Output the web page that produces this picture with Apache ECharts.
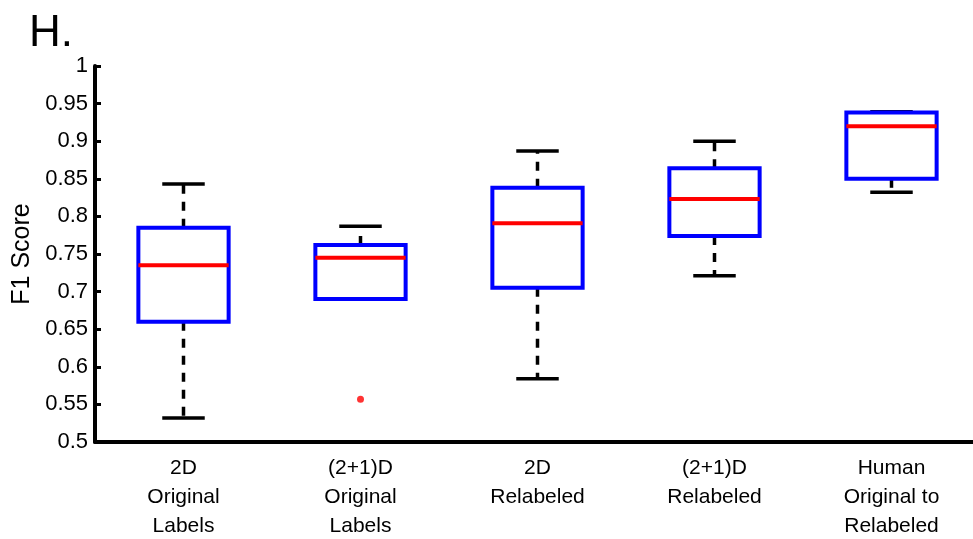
<!DOCTYPE html>
<html>
<head>
<meta charset="utf-8">
<script src="https://cdn.jsdelivr.net/npm/echarts@6/dist/echarts.min.js"></script>
<style>
  html, body { margin: 0; padding: 0; background: #fff; }
  #chart { width: 973px; height: 539px; }
</style>
</head>
<body>
<div id="chart"></div>
<script>
// values
const categories = ['2D\nOriginal\nLabels', '(2+1)D\nOriginal\nLabels', '2D\nRelabeled', '(2+1)D\nRelabeled', 'Human\nOriginal to\nRelabeled']
const lowWhisker = [0.532, 0.690, 0.584, 0.721, 0.832]
const q1 = [0.660, 0.690, 0.705, 0.774, 0.850]
const median = [0.735, 0.745, 0.791, 0.823, 0.920]
const q3 = [0.785, 0.762, 0.838, 0.864, 0.938]
const highWhisker = [0.843, 0.787, 0.887, 0.900, 0.939]
const outliers = [[1, 0.557]]
const yTicks = [0.5, 0.55, 0.6, 0.65, 0.7, 0.75, 0.8, 0.85, 0.9, 0.95, 1]

const boxData = categories.map((c, i) => [i, lowWhisker[i], q1[i], median[i], q3[i], highWhisker[i]])

const chart = echarts.init(document.getElementById('chart'))

function renderBox(params, api) {
  const idx = api.value(0)
  const band = api.size([1, 0])[0]
  const half = band * 0.255
  const cap = band * 0.12
  const pLow = api.coord([idx, api.value(1)])
  const pQ1 = api.coord([idx, api.value(2)])
  const pMed = api.coord([idx, api.value(3)])
  const pQ3 = api.coord([idx, api.value(4)])
  const pHigh = api.coord([idx, api.value(5)])
  const x = pMed[0]
  const children = []
  const dash = { stroke: '#000', lineWidth: 3.5, lineDash: [9, 8] }
  if (pHigh[1] < pQ3[1] - 1) {
    children.push({ type: 'line', shape: { x1: x, y1: pQ3[1], x2: x, y2: pHigh[1] }, style: dash })
  }
  children.push({ type: 'line', shape: { x1: x - cap, y1: pHigh[1], x2: x + cap, y2: pHigh[1] }, style: { stroke: '#000', lineWidth: 3.5 } })
  if (pLow[1] > pQ1[1] + 1) {
    children.push({ type: 'line', shape: { x1: x, y1: pQ1[1], x2: x, y2: pLow[1] }, style: dash })
    children.push({ type: 'line', shape: { x1: x - cap, y1: pLow[1], x2: x + cap, y2: pLow[1] }, style: { stroke: '#000', lineWidth: 3.5 } })
  }
  children.push({
    type: 'rect',
    shape: { x: x - half, y: pQ3[1], width: half * 2, height: pQ1[1] - pQ3[1] },
    style: { fill: 'none', stroke: '#0000ff', lineWidth: 4 }
  })
  children.push({ type: 'line', shape: { x1: x - half, y1: pMed[1], x2: x + half, y2: pMed[1] }, style: { stroke: '#ff0000', lineWidth: 4 } })
  return { type: 'group', children: children }
}

chart.setOption({
  animation: false,
  title: {
    text: 'H.',
    left: 24,
    top: 7,
    textStyle: { fontFamily: 'Liberation Sans', fontSize: 44, fontWeight: 'normal', color: '#000' }
  },
  grid: { left: 95, right: -7, top: 66, bottom: 97, outerBoundsMode: 'none' },
  xAxis: {
    type: 'category',
    data: categories,
    boundaryGap: true,
    axisLine: { lineStyle: { color: '#000', width: 4 } },
    axisTick: { show: false },
    axisLabel: {
      color: '#000',
      fontFamily: 'Liberation Sans',
      fontSize: 21,
      lineHeight: 29,
      margin: 12,
      interval: 0
    }
  },
  yAxis: {
    type: 'value',
    min: 0.5,
    max: 1,
    interval: 0.05,
    name: 'F1 Score',
    nameLocation: 'middle',
    nameGap: 57,
    nameTextStyle: { color: '#000', fontFamily: 'Liberation Sans', fontSize: 25 },
    splitLine: { show: false },
    axisLine: { show: true, lineStyle: { color: '#000', width: 4 } },
    axisTick: { show: true, inside: true, length: 6, lineStyle: { color: '#000', width: 3 } },
    axisLabel: {
      color: '#000',
      fontFamily: 'Liberation Sans',
      fontSize: 22,
      margin: 7,
      formatter: v => {
        const t = yTicks.find(k => Math.abs(k - v) < 1e-6)
        return t === undefined ? '' : String(t)
      }
    }
  },
  series: [
    {
      type: 'custom',
      renderItem: renderBox,
      encode: { x: 0, y: [1, 2, 3, 4, 5] },
      data: boxData,
      z: 3
    },
    {
      type: 'scatter',
      data: outliers,
      symbol: 'circle',
      symbolSize: 7,
      itemStyle: { color: '#ff0000' },
      z: 4
    }
  ]
})
</script>
</body>
</html>
